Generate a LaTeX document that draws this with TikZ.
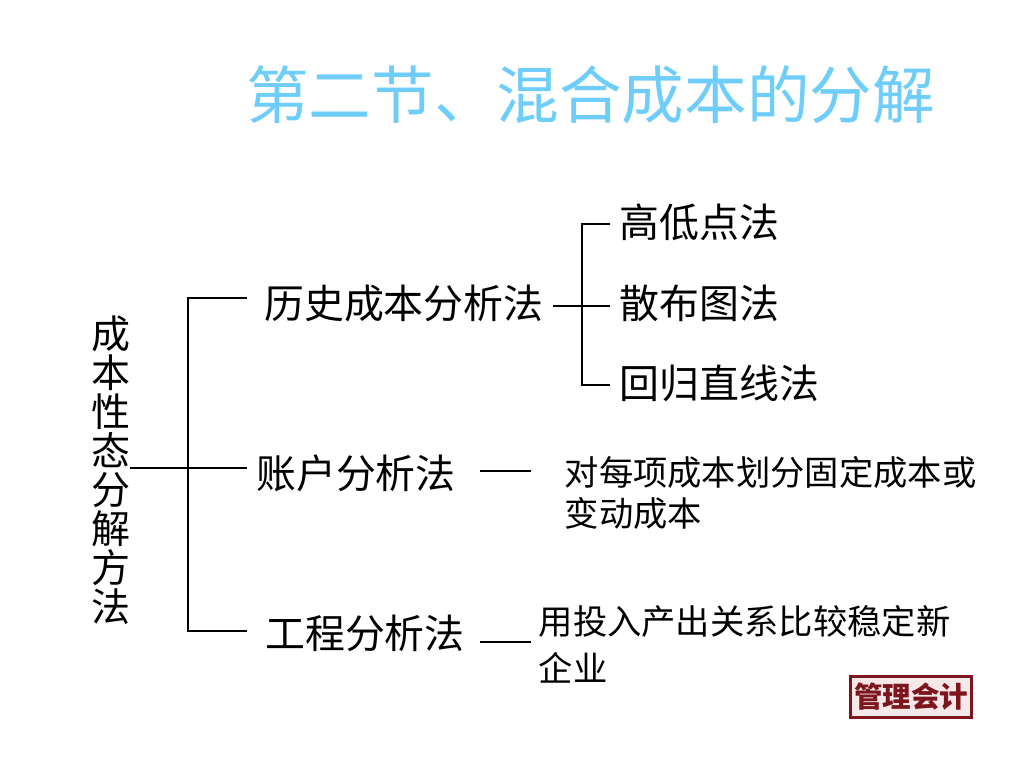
\documentclass[tikz,border=0pt]{standalone}
\usepackage{fontspec}
\setmainfont{Noto Sans CJK SC}
\definecolor{titleblue}{RGB}{110,205,250}
\definecolor{stampred}{RGB}{125,22,28}
\definecolor{stampback}{RGB}{244,232,232}
\tikzset{
  lbl/.style={anchor=west, inner sep=0pt, font=\fontsize{39.9}{44}\selectfont},
  note/.style={anchor=north west, inner sep=0pt, align=left, font=\fontsize{34.3}{#1}\selectfont},
  conn/.style={draw=black, line width=1.2pt},
}
\begin{document}
\begin{tikzpicture}[x=1pt, y=-1pt]
  \useasboundingbox (0,0) rectangle (1024,768);
  \node[anchor=west, inner sep=0pt, text=titleblue, font=\fontsize{62.6}{66}\selectfont] (title) at (246,95) {第二节、混合成本的分解};
  \node[inner sep=0pt, align=center, font=\fontsize{39}{39}\selectfont] (root) at (111,470) {成\\本\\性\\态\\分\\解\\方\\法};
  \node[lbl] (hist) at (264,303) {历史成本分析法};
  \node[lbl] (acct) at (256,473) {账户分析法};
  \node[lbl] (eng) at (265,633) {工程分析法};
  \node[lbl] (high) at (619.5,222.5) {高低点法};
  \node[lbl] (scat) at (619.5,303.5) {散布图法};
  \node[lbl] (regr) at (619.5,383.5) {回归直线法};
  \node[note=41] (acctnote) at (564.5,456) {对每项成本划分固定成本或\\变动成本};
  \node[note=47] (engnote) at (538.5,605) {用投入产出关系比较稳定新\\企业};
  % free ends of the brackets
  \coordinate (rootend) at (130,468);
  \coordinate (histin) at (247,298);
  \coordinate (acctin) at (247,468);
  \coordinate (engin) at (247,631);
  \coordinate (trunk) at (188,468);
  \coordinate (histout) at (553,306);
  \coordinate (highin) at (610,224);
  \coordinate (scatin) at (610,306);
  \coordinate (regrin) at (610,385);
  \coordinate (fork) at (582,306);
  \coordinate (acctout) at (480,471);
  \coordinate (acctnoteIn) at (531,471);
  \coordinate (engout) at (480,642);
  \coordinate (engnoteIn) at (531,642);
  \draw[conn] (rootend) -- (acctin);
  \draw[conn] (histin) -| (trunk) |- (engin);
  \draw[conn] (histout) -- (scatin);
  \draw[conn] (highin) -| (fork) |- (regrin);
  \draw[conn] (acctout) -- (acctnoteIn);
  \draw[conn] (engout) -- (engnoteIn);
  % stamp
  \node[draw=stampred, line width=3pt, fill=stampback, text=stampred, minimum width=121pt, minimum height=41pt, inner sep=0pt, font=\fontsize{28.5}{28.5}\bfseries\selectfont] (stamp) at (911,697) {管理会计};
\end{tikzpicture}
\end{document}
